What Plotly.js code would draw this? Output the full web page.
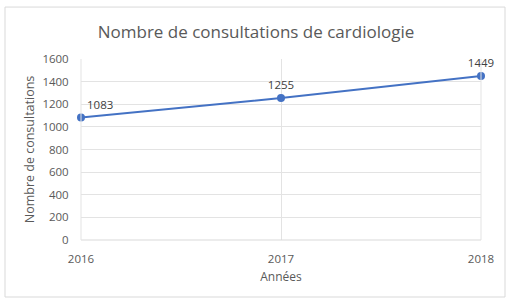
<!DOCTYPE html>
<html>
<head>
<meta charset="utf-8">
<script src="https://cdn.plot.ly/plotly-3.0.1.min.js"></script>
<style>html,body{margin:0;padding:0;background:#fff;}#chart{width:512px;height:301px;}</style>
</head>
<body>
<div id="chart"></div>
<script>
const years = [2016, 2017, 2018];
const consultations = [1083, 1255, 1449];
const labelPositions = ['top right', 'top center', 'top center'];
const yTicks = [0, 200, 400, 600, 800, 1000, 1200, 1400, 1600];

const font = "'Open Sans', 'Liberation Sans', sans-serif";
const trace = {
  x: years,
  y: consultations,
  mode: 'lines+markers+text',
  text: consultations.map(String),
  textposition: labelPositions,
  textfont: {family: font, size: 11.5, color: '#404040'},
  line: {color: '#4472C4', width: 2},
  marker: {color: '#4472C4', size: 8},
  cliponaxis: false,
  hoverinfo: 'none'
};
const layout = {
  width: 512, height: 301,
  margin: {l: 81, r: 31, t: 59, b: 61},
  paper_bgcolor: '#fff', plot_bgcolor: '#fff',
  showlegend: false,
  font: {family: font, color: '#595959', size: 11.5},
  title: {text: 'Nombre de consultations de cardiologie', font: {family: font, size: 17, color: '#595959'}, x: 0.5, xanchor: 'center', y: 0.893, yanchor: 'middle'},
  xaxis: {
    range: [2016, 2018], tickvals: years, ticktext: years.map(String),
    showgrid: true, gridcolor: '#e3e3e3', zeroline: false,
    showline: false, ticks: 'outside', ticklen: 8, tickcolor: 'rgba(0,0,0,0)',
    tickfont: {size: 11.5, color: '#595959'},
    title: {text: 'Années', font: {size: 12, color: '#595959'}, standoff: 7}
  },
  yaxis: {
    range: [0, 1600], tickvals: yTicks,
    showgrid: true, gridcolor: '#e3e3e3', zeroline: false,
    showline: false, ticks: 'outside', ticklen: 9, tickcolor: 'rgba(0,0,0,0)',
    tickfont: {size: 11.5, color: '#595959'},
    title: {text: 'Nombre de consultations', font: {size: 12.5, color: '#595959'}, standoff: 5}
  },
  shapes: [
    {type: 'rect', xref: 'paper', yref: 'paper', x0: -0.19, x1: 1.06, y0: -0.315, y1: 1.287, line: {color: '#d9d9d9', width: 1}, fillcolor: 'rgba(0,0,0,0)', layer: 'below'},
    {type: 'line', xref: 'paper', yref: 'paper', x0: 0, x1: 1, y0: 0, y1: 0, line: {color: '#d9d9d9', width: 1}},
    {type: 'line', xref: 'paper', yref: 'paper', x0: 0, x1: 0, y0: 0, y1: 1, line: {color: '#e3e3e3', width: 1}},
    {type: 'line', xref: 'paper', yref: 'paper', x0: 1, x1: 1, y0: 0, y1: 1, line: {color: '#e3e3e3', width: 1}}
  ]
};
Plotly.newPlot('chart', [trace], layout, {displayModeBar: false, staticPlot: true});
</script>
</body>
</html>
